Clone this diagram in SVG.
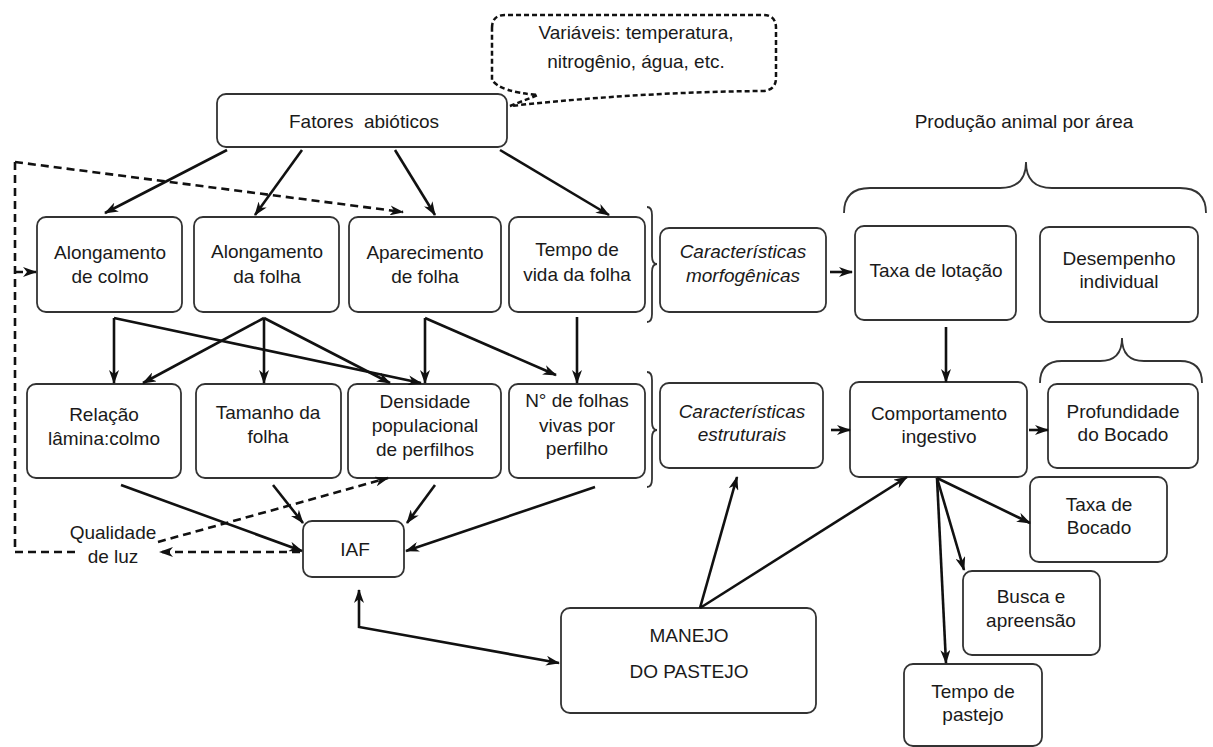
<svg xmlns="http://www.w3.org/2000/svg" width="1213" height="747" viewBox="0 0 1213 747">
<style>
.box{fill:#fff;stroke:#333;stroke-width:1.8}
.t{font-family:"Liberation Sans",Arial,sans-serif;font-size:19px;fill:#1a1a1a;text-anchor:middle}
.i{font-style:italic}
.c{stroke:#111;stroke-width:2.6;fill:none}
.d{stroke-dasharray:8 5}
.br{stroke:#333;stroke-width:1.8;fill:none}
</style>
<defs>
<marker id="a" viewBox="0 0 14 10" refX="13" refY="5" markerWidth="14" markerHeight="10" orient="auto-start-reverse" markerUnits="userSpaceOnUse">
<path d="M0,0 L14,5 L0,10 L4,5 Z" fill="#111"/>
</marker>
</defs>
<rect width="1213" height="747" fill="#fff"/>

<g id="bubble">
<path d="M492,28 Q492,15 505,15 L763,15 Q776,15 776,28 L776,78 Q776,90 763,91 Q640,92 510,106 L538,95 Q500,92 492,80 Z" fill="#fff" stroke="#111" stroke-width="2.5" stroke-dasharray="5 3"/>
<text class="t" x="636" y="39">Variáveis: temperatura,</text>
<text class="t" x="636" y="68">nitrogênio, água, etc.</text>
</g>

<g id="fatores"><rect class="box" x="217" y="94" width="290" height="53" rx="9"/><text class="t" x="364" y="128" xml:space="preserve">Fatores  abióticos</text></g>

<g id="producao">
<text class="t" x="1024" y="128">Produção animal por área</text>
<path class="br" d="M844,213 Q844,188 870,188 L1000,188 Q1026,188 1026,162 Q1026,188 1052,188 L1180,188 Q1206,188 1206,213"/>
</g>

<g id="along-colmo"><rect class="box" x="37" y="217" width="145" height="95" rx="9"/><text class="t" x="110" y="259">Alongamento</text><text class="t" x="110" y="283">de colmo</text></g>
<g id="along-folha"><rect class="box" x="194" y="217" width="145" height="95" rx="9"/><text class="t" x="267" y="258">Alongamento</text><text class="t" x="267" y="283">da folha</text></g>
<g id="aparec"><rect class="box" x="349" y="217" width="152" height="95" rx="9"/><text class="t" x="425" y="259">Aparecimento</text><text class="t" x="425" y="283">de folha</text></g>
<g id="tempo-vida"><rect class="box" x="509" y="217" width="136" height="95" rx="9"/><text class="t" x="577" y="256">Tempo de</text><text class="t" x="577" y="281">vida da folha</text></g>

<g id="brace1"><path class="br" d="M647,207 Q652,207 652,215 L652,256 Q652,264 657,264 Q652,264 652,272 L652,314 Q652,322 647,322"/></g>
<g id="brace2"><path class="br" d="M647,372 Q652,372 652,380 L652,422 Q652,430 657,430 Q652,430 652,438 L652,479 Q652,487 647,487"/></g>

<g id="morfo"><rect class="box" x="660" y="228" width="166" height="84" rx="9"/><text class="t i" x="743" y="258">Características</text><text class="t i" x="743" y="282">morfogênicas</text></g>
<g id="lotacao"><rect class="box" x="855" y="226" width="161" height="94" rx="9"/><text class="t" x="936" y="277">Taxa de lotação</text></g>
<g id="desempenho"><rect class="box" x="1040" y="227" width="158" height="95" rx="9"/><text class="t" x="1119" y="265">Desempenho</text><text class="t" x="1119" y="288">individual</text></g>

<g id="relacao"><rect class="box" x="27" y="384" width="154" height="94" rx="9"/><text class="t" x="104" y="421">Relação</text><text class="t" x="104" y="445">lâmina:colmo</text></g>
<g id="tamanho"><rect class="box" x="196" y="384" width="145" height="94" rx="9"/><text class="t" x="268" y="419">Tamanho da</text><text class="t" x="268" y="443">folha</text></g>
<g id="densidade"><rect class="box" x="348" y="384" width="153" height="94" rx="9"/><text class="t" x="425" y="408">Densidade</text><text class="t" x="425" y="432">populacional</text><text class="t" x="425" y="456">de perfilhos</text></g>
<g id="nfolhas"><rect class="box" x="509" y="384" width="136" height="94" rx="9"/><text class="t" x="577" y="407">N° de folhas</text><text class="t" x="577" y="432">vivas por</text><text class="t" x="577" y="455">perfilho</text></g>

<g id="estrut"><rect class="box" x="660" y="383" width="163" height="85" rx="9"/><text class="t i" x="742" y="418">Características</text><text class="t i" x="742" y="441">estruturais</text></g>
<g id="comport"><rect class="box" x="850" y="382" width="177" height="95" rx="9"/><text class="t" x="939" y="420">Comportamento</text><text class="t" x="939" y="443">ingestivo</text></g>
<g id="brace3"><path class="br" d="M1040,383 Q1040,361 1062,361 L1100,361 Q1122,361 1122,338 Q1122,361 1144,361 L1180,361 Q1202,361 1202,383"/></g>
<g id="profund"><rect class="box" x="1048" y="384" width="150" height="84" rx="9"/><text class="t" x="1123" y="418">Profundidade</text><text class="t" x="1123" y="441">do Bocado</text></g>

<g id="iaf"><rect class="box" x="303" y="521" width="101" height="56" rx="9"/><text class="t" x="355" y="556">IAF</text></g>
<g id="qualidade"><text class="t" x="113" y="539">Qualidade</text><text class="t" x="113" y="563">de luz</text></g>

<g id="taxa-bocado"><rect class="box" x="1030" y="477" width="137" height="85" rx="9"/><text class="t" x="1099" y="511">Taxa de</text><text class="t" x="1099" y="534">Bocado</text></g>
<g id="busca"><rect class="box" x="963" y="571" width="137" height="84" rx="9"/><text class="t" x="1031" y="603">Busca e</text><text class="t" x="1031" y="627">apreensão</text></g>
<g id="tempo-pastejo"><rect class="box" x="904" y="664" width="138" height="82" rx="9"/><text class="t" x="973" y="698">Tempo de</text><text class="t" x="973" y="721">pastejo</text></g>
<g id="manejo"><rect class="box" x="561" y="608" width="255" height="105" rx="9"/><text class="t" x="689" y="642">MANEJO</text><text class="t" x="689" y="678">DO PASTEJO</text></g>

<g id="connectors">
<line class="c" x1="227" y1="150" x2="105" y2="213" marker-end="url(#a)"/>
<line class="c" x1="302" y1="150" x2="255" y2="215" marker-end="url(#a)"/>
<line class="c" x1="395" y1="150" x2="435" y2="215" marker-end="url(#a)"/>
<line class="c" x1="500" y1="150" x2="609" y2="215" marker-end="url(#a)"/>
<line class="c d" x1="15" y1="162" x2="403" y2="212" marker-end="url(#a)"/>
<polyline class="c d" points="75,552 15,552 15,162"/>
<line class="c d" x1="15" y1="272" x2="36" y2="272" marker-end="url(#a)"/>
<line class="c" x1="114" y1="318" x2="114" y2="383" marker-end="url(#a)"/>
<line class="c" x1="114" y1="318" x2="421" y2="383" marker-end="url(#a)"/>
<line class="c" x1="264" y1="318" x2="143" y2="383" marker-end="url(#a)"/>
<line class="c" x1="264" y1="318" x2="264" y2="383" marker-end="url(#a)"/>
<line class="c" x1="264" y1="318" x2="390" y2="383" marker-end="url(#a)"/>
<line class="c" x1="425" y1="318" x2="425" y2="383" marker-end="url(#a)"/>
<line class="c" x1="425" y1="318" x2="556" y2="375" marker-end="url(#a)"/>
<line class="c" x1="577" y1="317" x2="577" y2="383" marker-end="url(#a)"/>
<line class="c" x1="121" y1="485" x2="302" y2="551" marker-end="url(#a)"/>
<line class="c" x1="273" y1="485" x2="303" y2="523" marker-end="url(#a)"/>
<line class="c" x1="435" y1="485" x2="407" y2="523" marker-end="url(#a)"/>
<line class="c" x1="595" y1="487" x2="406" y2="551" marker-end="url(#a)"/>
<line class="c d" x1="300" y1="552" x2="160" y2="552" marker-end="url(#a)"/>
<line class="c d" x1="158" y1="542" x2="388" y2="478" marker-end="url(#a)"/>
<line class="c" x1="830" y1="272" x2="852" y2="272" marker-end="url(#a)"/>
<line class="c" x1="946" y1="327" x2="946" y2="382" marker-end="url(#a)"/>
<line class="c" x1="831" y1="430" x2="850" y2="430" marker-end="url(#a)"/>
<line class="c" x1="1029" y1="430" x2="1048" y2="430" marker-end="url(#a)"/>
<line class="c" x1="700" y1="608" x2="737" y2="477" marker-end="url(#a)"/>
<line class="c" x1="700" y1="608" x2="907" y2="477" marker-end="url(#a)"/>
<line class="c" x1="937" y1="478" x2="1030" y2="523" marker-end="url(#a)"/>
<line class="c" x1="937" y1="478" x2="964" y2="570" marker-end="url(#a)"/>
<line class="c" x1="937" y1="478" x2="946" y2="663" marker-end="url(#a)"/>
<polyline class="c" points="359,590 359,627 559,663" marker-start="url(#a)" marker-end="url(#a)"/>
</g>
</svg>
